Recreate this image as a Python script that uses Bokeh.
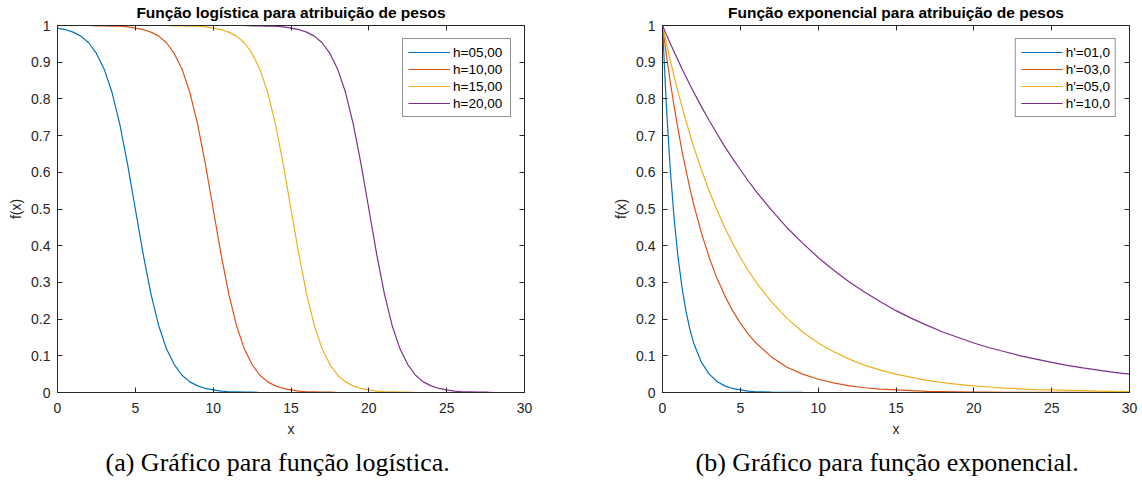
from bokeh.plotting import figure
from bokeh.layouts import row
from bokeh.models import LinearAxis, FixedTicker, Title, Legend, LegendItem, Range1d
from bokeh.embed import file_html
from bokeh.resources import INLINE

# ---------------- data ----------------
X_TICKS = [0, 5, 10, 15, 20, 25, 30]
Y_TICKS = [0, 0.1, 0.2, 0.3, 0.4, 0.5, 0.6, 0.7, 0.8, 0.9, 1]
Y_TICK_LABELS = ["0", "0.1", "0.2", "0.3", "0.4", "0.5", "0.6", "0.7", "0.8", "0.9", "1"]

# logistic plot (x sampled every 0.5)
x_log = [0, 0.5, 1, 1.5, 2, 2.5, 3, 3.5, 4, 4.5,
         5, 5.5, 6, 6.5, 7, 7.5, 8, 8.5, 9, 9.5,
         10, 10.5, 11, 11.5, 12, 12.5, 13, 13.5, 14, 14.5,
         15, 15.5, 16, 16.5, 17, 17.5, 18, 18.5, 19, 19.5,
         20, 20.5, 21, 21.5, 22, 22.5, 23, 23.5, 24, 24.5,
         25, 25.5, 26, 26.5, 27, 27.5, 28, 28.5, 29, 29.5,
         30]
log_h05 = [0.993, 0.989, 0.982, 0.971, 0.953, 0.924, 0.881, 0.818, 0.731, 0.622,
           0.500, 0.378, 0.269, 0.182, 0.119, 0.076, 0.047, 0.029, 0.018, 0.011,
           0.007, 0.004, 0.002, 0.002, 0.001, 0.001, 0, 0, 0, 0,
           0, 0, 0, 0, 0, 0, 0, 0, 0, 0,
           0, 0, 0, 0, 0, 0, 0, 0, 0, 0,
           0, 0, 0, 0, 0, 0, 0, 0, 0, 0,
           0]
log_h10 = [1, 1, 1, 1, 1, 0.999, 0.999, 0.998, 0.998, 0.996,
           0.993, 0.989, 0.982, 0.971, 0.953, 0.924, 0.881, 0.818, 0.731, 0.622,
           0.500, 0.378, 0.269, 0.182, 0.119, 0.076, 0.047, 0.029, 0.018, 0.011,
           0.007, 0.004, 0.002, 0.002, 0.001, 0.001, 0, 0, 0, 0,
           0, 0, 0, 0, 0, 0, 0, 0, 0, 0,
           0, 0, 0, 0, 0, 0, 0, 0, 0, 0,
           0]
log_h15 = [1, 1, 1, 1, 1, 1, 1, 1, 1, 1,
           1, 1, 1, 1, 1, 0.999, 0.999, 0.998, 0.998, 0.996,
           0.993, 0.989, 0.982, 0.971, 0.953, 0.924, 0.881, 0.818, 0.731, 0.622,
           0.500, 0.378, 0.269, 0.182, 0.119, 0.076, 0.047, 0.029, 0.018, 0.011,
           0.007, 0.004, 0.002, 0.002, 0.001, 0.001, 0, 0, 0, 0,
           0, 0, 0, 0, 0, 0, 0, 0, 0, 0,
           0]
log_h20 = [1, 1, 1, 1, 1, 1, 1, 1, 1, 1,
           1, 1, 1, 1, 1, 1, 1, 1, 1, 1,
           1, 1, 1, 1, 1, 0.999, 0.999, 0.998, 0.998, 0.996,
           0.993, 0.989, 0.982, 0.971, 0.953, 0.924, 0.881, 0.818, 0.731, 0.622,
           0.500, 0.378, 0.269, 0.182, 0.119, 0.076, 0.047, 0.029, 0.018, 0.011,
           0.007, 0.004, 0.002, 0.002, 0.001, 0.001, 0, 0, 0, 0,
           0]
log_labels = ["h=05,00", "h=10,00", "h=15,00", "h=20,00"]

# exponential plot
x_exp = [0, 0.25, 0.5, 0.75, 1, 1.25, 1.5, 1.75, 2,
         2.5, 3, 3.5, 4, 4.5, 5, 5.5, 6,
         7, 8, 9, 10, 11, 12, 13, 14, 15, 16, 17, 18,
         19, 20, 21, 22, 23, 24, 25, 26, 27, 28, 29, 30]
exp_h01 = [1, 0.779, 0.607, 0.472, 0.368, 0.287, 0.223, 0.174, 0.135,
           0.082, 0.050, 0.030, 0.018, 0.011, 0.007, 0.004, 0.002,
           0.001, 0.0003, 0.0001, 0, 0, 0, 0, 0, 0, 0, 0, 0,
           0, 0, 0, 0, 0, 0, 0, 0, 0, 0, 0, 0]
exp_h03 = [1, 0.920, 0.846, 0.779, 0.717, 0.659, 0.607, 0.558, 0.513,
           0.435, 0.368, 0.311, 0.264, 0.223, 0.189, 0.160, 0.135,
           0.097, 0.069, 0.050, 0.036, 0.026, 0.018, 0.013, 0.009, 0.007, 0.005, 0.003, 0.0025,
           0.0018, 0.0013, 0.0009, 0.0007, 0.0005, 0.0003, 0.0002, 0.0002, 0.0001, 0.0001, 0.0001, 0]
exp_h05 = [1, 0.951, 0.905, 0.861, 0.819, 0.779, 0.741, 0.705, 0.670,
           0.607, 0.549, 0.497, 0.449, 0.407, 0.368, 0.333, 0.301,
           0.247, 0.202, 0.165, 0.135, 0.111, 0.091, 0.074, 0.061, 0.050, 0.041, 0.033, 0.027,
           0.022, 0.018, 0.015, 0.012, 0.010, 0.008, 0.007, 0.006, 0.005, 0.004, 0.003, 0.0025]
exp_h10 = [1, 0.975, 0.951, 0.928, 0.905, 0.882, 0.861, 0.839, 0.819,
           0.779, 0.741, 0.705, 0.670, 0.638, 0.607, 0.577, 0.549,
           0.497, 0.449, 0.407, 0.368, 0.333, 0.301, 0.273, 0.247, 0.223, 0.202, 0.183, 0.165,
           0.150, 0.135, 0.122, 0.111, 0.100, 0.091, 0.082, 0.074, 0.067, 0.061, 0.055, 0.050]
exp_labels = ["h'=01,0", "h'=03,0", "h'=05,0", "h'=10,0"]

COLORS = ["#0072BD", "#D95319", "#EDB120", "#7E2F8E"]
SANS = "Liberation Sans"
SERIF = "Liberation Serif"
AX = "#262626"


def style_axis(ax, is_x, show_labels):
    ax.ticker = FixedTicker(ticks=X_TICKS if is_x else Y_TICKS)
    ax.axis_line_color = AX
    ax.major_tick_line_color = AX
    ax.major_tick_in = 5
    ax.major_tick_out = 0
    ax.minor_tick_line_color = None
    ax.major_label_text_font = SANS
    ax.axis_label_text_font = SANS
    ax.axis_label_text_color = AX
    ax.axis_label_text_font_style = "normal"
    ax.axis_label_text_font_size = "14px"
    if show_labels:
        ax.major_label_text_font_size = "14px"
        ax.major_label_text_color = AX
    else:
        ax.major_label_text_font_size = "1px"
        ax.major_label_text_color = None
        ax.major_label_standoff = 0


def make(title, caption, xs, series, labels, bl, br, label_w, cap_offset):
    p = figure(width=571, height=483, x_range=Range1d(0, 30), y_range=Range1d(0, 1),
               output_backend="svg", toolbar_location=None,
               min_border_left=bl, min_border_right=br,
               min_border_top=24, min_border_bottom=91)
    p.grid.visible = False
    p.outline_line_color = AX
    p.outline_line_alpha = 1
    p.title.text = title
    p.title.align = "center"
    p.title.vertical_align = "top"
    p.title.text_font = SANS
    p.title.text_font_size = "15.5px"
    p.title.text_font_style = "bold"
    p.title.text_color = "black"
    p.title.standoff = 6

    xa = p.xaxis[0]
    ya = p.yaxis[0]
    style_axis(xa, True, True)
    style_axis(ya, False, True)
    xa.axis_label = "x"
    ya.axis_label = "f(x)"
    xa.major_label_standoff = 10
    xa.axis_label_standoff = 5
    ya.major_label_standoff = 7
    ya.axis_label_standoff = 4
    ya.major_label_overrides = {t: s for t, s in zip(Y_TICKS, Y_TICK_LABELS)}

    top = LinearAxis()
    style_axis(top, True, False)
    p.add_layout(top, "above")
    right = LinearAxis()
    style_axis(right, False, False)
    p.add_layout(right, "right")

    items = []
    for ys, lab, c in zip(series, labels, COLORS):
        r = p.line(xs, ys, line_color=c, line_width=1.2)
        items.append(LegendItem(label=lab, renderers=[r]))
    leg = Legend(items=items, location="top_right")
    leg.label_text_font = SANS
    leg.label_text_font_size = "13.5px"
    leg.label_text_color = "black"
    leg.glyph_width = 42
    leg.glyph_height = 16
    leg.label_height = 16
    leg.label_width = label_w
    leg.label_standoff = 3
    leg.spacing = 1
    leg.padding = 5
    leg.margin = 13
    leg.border_line_color = AX
    leg.border_line_width = 1
    leg.background_fill_color = "white"
    leg.background_fill_alpha = 1
    p.add_layout(leg, "center")

    cap = Title(text=caption, align="left", text_font=SERIF, text_font_size="26px",
                text_font_style="normal", text_color="black", standoff=13, offset=cap_offset)
    p.add_layout(cap, "below")
    return p


p1 = make("Função logística para atribuição de pesos", "(a) Gráfico para função logística.",
          x_log, [log_h05, log_h10, log_h15, log_h20], log_labels, 57, 47, 52, 48)
p2 = make("Função exponencial para atribuição de pesos", "(b) Gráfico para função exponencial.",
          x_exp, [exp_h01, exp_h03, exp_h05, exp_h10], exp_labels, 91, 13, 42, 33)

layout = row(p1, p2, spacing=0)
open("out.html", "w").write(file_html(layout, INLINE))
